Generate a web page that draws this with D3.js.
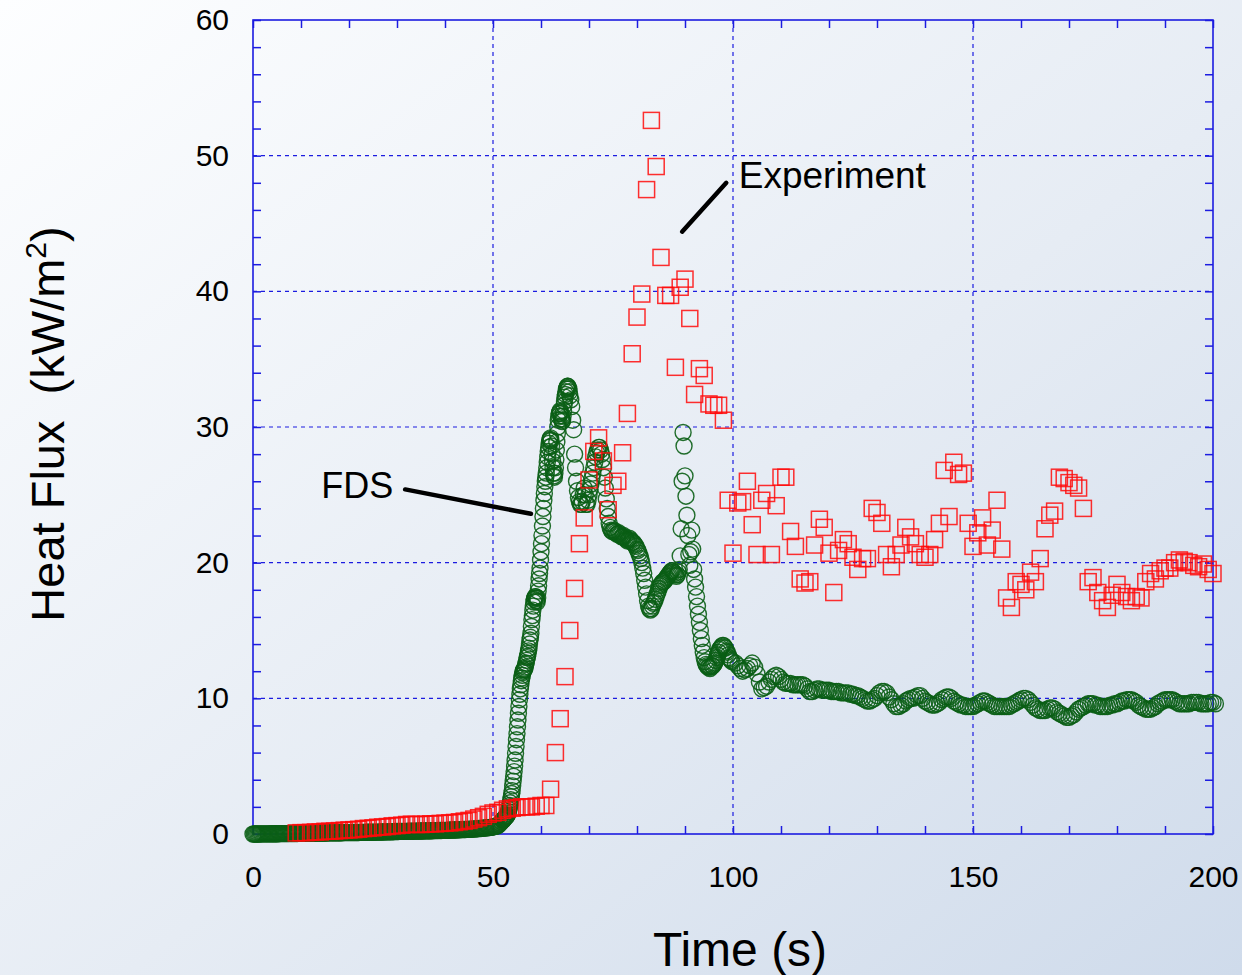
<!DOCTYPE html>
<html>
<head>
<meta charset="utf-8">
<script src="https://cdn.jsdelivr.net/npm/d3@7"></script>
<style>
  body { margin: 0; }
  svg { display: block; }
</style>
</head>
<body>
<div id="chart"></div>
<script>
// ------------------------------------------------------
// Size of the picture and the plot box
const width = 1242
const height = 975
const plotLeft = 253
const plotRight = 1213
const plotTop = 20
const plotBottom = 834

// ------------------------------------------------------
// Data

// Axis ticks
const xTicks = [0, 50, 100, 150, 200]
const yTicks = [0, 10, 20, 30, 40, 50, 60]

// FDS (green circles), stored in pieces with a start time and a step
const fdsEarlyStart = 0, fdsEarlyStep = 0.25
const fdsEarly = [
  0.00,0.00,0.00,0.00, 0.00,0.00,0.01,0.01, 0.01,0.01,0.01,0.01, 0.01,0.01,0.01,0.02,
  0.02,0.02,0.02,0.02, 0.02,0.02,0.03,0.03, 0.03,0.03,0.03,0.03, 0.03,0.03,0.04,0.04,
  0.04,0.04,0.04,0.04, 0.04,0.04,0.05,0.05, 0.05,0.05,0.05,0.05, 0.05,0.05,0.06,0.06,
  0.06,0.06,0.06,0.06, 0.06,0.06,0.07,0.07, 0.07,0.07,0.07,0.07, 0.07,0.07,0.08,0.08,
  0.08,0.08,0.08,0.08, 0.08,0.08,0.09,0.09, 0.09,0.09,0.09,0.10, 0.10,0.10,0.10,0.10,
  0.10,0.10,0.11,0.11, 0.11,0.11,0.11,0.11, 0.11,0.12,0.12,0.12, 0.12,0.12,0.13,0.13,
  0.13,0.13,0.13,0.13, 0.13,0.14,0.14,0.14, 0.14,0.14,0.15,0.15, 0.15,0.15,0.16,0.16,
  0.16,0.16,0.17,0.17, 0.17,0.17,0.18,0.18, 0.18,0.18,0.19,0.19, 0.19,0.19,0.19,0.19,
  0.19,0.20,0.20,0.20, 0.20,0.20,0.21,0.21, 0.21,0.21,0.22,0.22, 0.22,0.22,0.23,0.23,
  0.23,0.23,0.24,0.24, 0.24,0.24,0.25,0.25, 0.25,0.25,0.26,0.26, 0.26,0.26,0.27,0.27,
  0.27,0.27,0.28,0.28, 0.28,0.29,0.29,0.30, 0.30,0.30,0.31,0.31, 0.31,0.32,0.32,0.33,
  0.33,0.33,0.34,0.34, 0.35,0.35,0.36,0.36, 0.37,0.38,0.38,0.39, 0.40,0.41,0.41,0.42,
  0.43,0.44,0.45,0.46, 0.47,0.48,0.49,0.50, 0.52,0.54,0.56,0.59, 0.62,0.70,0.80,0.90
]

const fdsRiseStart = 52, fdsRiseStep = 0.1
const fdsRise = [
  1.00,1.03,1.07,1.11,1.15,1.20,1.24,1.28,1.32,1.36,
  1.40,1.52,1.65,1.80,1.95,2.10,2.30,2.52,2.75,2.98,
  3.20,3.55,3.90,4.25,4.60,5.00,5.45,5.95,6.45,6.95,
  7.40,7.90,8.40,8.90,9.40,9.90,10.3,10.7,11.0,11.3,
  11.5,11.7,11.9,12.0,12.1,12.1,12.2,12.3,12.5,12.6,
  12.8,13.0,13.1,13.3,13.5,13.7,14.0,14.3,14.5,14.8,
  15.3,15.8,16.1,16.5,16.8,17.1,17.3,17.4,17.5,17.5,
  17.4,17.2,17.1,17.4,17.9,18.3,18.8,19.2,19.6,20.2,
  20.8,21.4,22.0,22.7,23.4,24.0,24.6,25.1,25.6,26.0,
  26.3,26.6,27.0,27.4,27.8,28.2,28.5,28.8,29.0,29.1,
  29.2,29.0,28.6,28.0,27.5,27.0,26.6,26.4,26.3,26.6,
  27.0,27.6,28.3,28.9,29.5,30.0,30.5,30.8,31.0,31.1,
  31.2,31.0,30.8,30.6,30.4,30.5,30.8,31.2,31.6,31.9,
  32.2,32.4,32.6,32.8,32.9,33.0,33.0,32.9,32.8,32.6,
  32.3
]

const fdsPeakStart = 66.2, fdsPeakStep = 0.2
const fdsPeak = [
  32.0,31.5,30.5,29.8,28.0,27.0,26.0,25.3,24.8,24.5,
  24.3,24.3,24.5,25.0,25.5,25.0,24.3,24.3,24.6,25.0,
  25.4,25.8,26.2,26.6,27.0,27.4,27.8,28.1,28.3,28.5,
  28.5,28.3,28.0,27.6,27.0,26.3,25.5,24.7,24.0,23.4,
  22.9,22.6,22.4,22.3,22.3,22.4,22.3,22.2,22.1,22.1,
  22.2,22.1,22.0,21.9,21.9,22.0,21.9,21.8,21.7,21.6,
  21.7,21.8,21.7,21.6,21.5,21.5,21.4,21.3,21.2,21.0,
  20.9,20.7,20.5,20.3,20.0,19.6,19.2,18.7,18.2,17.7,
  17.2,16.8,16.6,16.5,16.6,16.8,17.0,17.1,17.3,17.5,
  17.7,17.9,18.1,18.3,18.4,18.5,18.6,18.6,18.7,18.8,
  18.9,19.0,19.1,19.2,19.3,19.4,19.4,19.3,19.2,19.1,
  19.0,19.1,19.3,19.5,20.5,22.5,26.0,29.6,28.6,26.4,
  24.9,23.5,22.0,20.6,19.8,20.8,22.4,21.0,19.5,18.8,
  18.2,17.5,16.8,16.2,15.6,15.0,14.4,13.9,13.4,13.0,
  12.7,12.5,12.4,12.3,12.3,12.2,12.3,12.4,12.4,12.5,
  12.6,12.8,13.0,13.2,13.4,13.6,13.7,13.8,13.9,13.9,
  13.8,13.7,13.5,13.4,13.2,13.0,12.9,12.8,12.7
]

const fdsTailStart = 100.5, fdsTailStep = 0.5
const fdsTail = [
  12.6,12.4,12.2,12.0,12.1,12.2,12.4,12.6,12.3,11.8,
  11.2,10.7,10.8,10.9,11.2,11.4,11.6,11.7,11.6,11.4,
  11.2,11.1,11.1,11.1,11.0,11.0,11.0,11.0,11.0,10.9,
  10.7,10.5,10.5,10.6,10.7,10.7,10.6,10.6,10.6,10.6,
  10.5,10.5,10.5,10.5,10.4,10.4,10.4,10.4,10.3,10.3,
  10.2,10.2,10.1,10.0,9.9,9.8,9.8,9.9,10.0,10.2,
  10.4,10.5,10.5,10.4,10.1,9.9,9.6,9.4,9.4,9.5,
  9.6,9.8,9.9,10.0,10.0,10.1,10.2,10.2,10.0,9.8,
  9.7,9.6,9.5,9.5,9.6,9.7,9.9,10.0,10.1,10.1,
  10.0,9.8,9.7,9.6,9.5,9.5,9.4,9.4,9.4,9.4,
  9.5,9.6,9.7,9.8,9.8,9.7,9.6,9.5,9.4,9.4,
  9.4,9.4,9.4,9.4,9.4,9.5,9.6,9.7,9.8,9.9,
  10.0,10.0,9.9,9.7,9.5,9.3,9.2,9.1,9.1,9.1,
  9.2,9.3,9.3,9.2,9.0,8.9,8.8,8.7,8.6,8.6,
  8.7,8.8,9.0,9.2,9.3,9.4,9.5,9.6,9.6,9.6,
  9.5,9.5,9.4,9.4,9.4,9.4,9.5,9.5,9.6,9.6,
  9.7,9.8,9.8,9.9,9.9,9.9,9.8,9.7,9.5,9.4,
  9.3,9.2,9.2,9.2,9.3,9.4,9.6,9.7,9.8,9.9,
  9.9,9.9,9.9,9.8,9.7,9.6,9.6,9.6,9.6,9.6,
  9.7,9.7,9.7,9.7,9.6,9.6,9.6,9.6,9.7,9.7,
  9.6
]

// Experiment (red squares), one reading per second
const expStart = 9, expStep = 1
const expFlux = [
  0.08,
  0.10,0.10,0.12,0.15,0.15,0.20,0.20,0.22,0.25,0.28,
  0.30,0.32,0.35,0.40,0.42,0.45,0.50,0.52,0.55,0.60,
  0.62,0.65,0.70,0.72,0.70,0.70,0.72,0.75,0.75,0.78,
  0.80,0.82,0.85,0.90,0.95,1.00,1.10,1.20,1.30,1.45,
  1.55,1.60,1.75,1.85,1.90,1.95,2.00,2.00,2.00,2.05,
  2.10,2.10,3.30,6.00,8.50,11.6,15.0,18.1,21.4,23.3,
  26.1,28.2,29.2,27.5,23.9,25.7,26.0,28.1,31.0,35.4,
  38.1,39.8,47.5,52.6,49.2,42.5,39.7,39.7,34.4,40.3,
  40.9,38.0,32.4,34.3,33.8,31.7,31.6,31.6,30.5,24.6,
  20.7,24.4,24.5,26.0,22.8,20.6,24.6,25.1,20.6,24.2,
  26.3,26.3,22.3,21.2,18.8,18.5,18.6,21.3,23.2,22.6,
  20.7,17.8,20.9,21.7,21.4,20.4,19.5,20.3,20.3,24.0,
  23.7,22.9,20.6,19.7,20.6,21.3,22.6,21.9,21.4,20.6,
  20.4,20.6,21.7,22.9,26.8,23.4,27.4,26.5,26.6,22.9,
  21.2,22.2,23.3,21.3,22.4,24.6,21.0,17.4,16.7,18.6,
  18.4,18.0,19.3,18.6,20.3,22.5,23.5,23.8,26.3,26.2,
  25.9,25.7,25.5,24.0,18.6,18.9,17.8,17.2,16.7,17.6,
  18.4,17.8,17.5,17.2,17.5,17.4,18.6,19.2,18.8,19.4,
  19.6,19.6,20.0,20.2,20.1,20.0,19.8,19.7,19.9,19.5,
  19.2
]

// Labels that point at the two series, in data units
const expLabel = { text: 'Experiment', t: 101.2, v: 47.6, from: [89.4, 44.4], to: [98.6, 48.0] }
const fdsLabel = { text: 'FDS', t: 29.2, v: 24.8, from: [31.7, 25.4], to: [57.9, 23.6] }

// ------------------------------------------------------
// Turn the pieces into points

function toPoints(start, step, values) {
  return values.map((v, i) => ({ t: start + i * step, v: v }))
}

const fdsData = [].concat(
  toPoints(fdsEarlyStart, fdsEarlyStep, fdsEarly),
  toPoints(fdsRiseStart, fdsRiseStep, fdsRise),
  toPoints(fdsPeakStart, fdsPeakStep, fdsPeak),
  toPoints(fdsTailStart, fdsTailStep, fdsTail)
)
const expData = toPoints(expStart, expStep, expFlux)

// ------------------------------------------------------
// Scales

const x = d3.scaleLinear()
  .domain([0, 200])
  .range([plotLeft, plotRight])

const y = d3.scaleLinear()
  .domain([0, 60])
  .range([plotBottom, plotTop])

const font = 'Liberation Sans, Arial, Helvetica, sans-serif'
const blue = '#1c1ce0'

const svg = d3.select('#chart')
  .append('svg')
  .attr('width', width)
  .attr('height', height)

// Light blue background that gets darker towards the bottom right
const grad = svg.append('defs')
  .append('linearGradient')
  .attr('id', 'bg')
  .attr('x1', '0%').attr('y1', '0%')
  .attr('x2', '100%').attr('y2', '100%')
grad.append('stop').attr('offset', '0%').attr('stop-color', '#fdfeff')
grad.append('stop').attr('offset', '55%').attr('stop-color', '#e6ecf4')
grad.append('stop').attr('offset', '100%').attr('stop-color', '#cfdbeb')

svg.append('rect')
  .attr('width', width)
  .attr('height', height)
  .attr('fill', 'url(#bg)')

// ------------------------------------------------------
// Dashed grid at the labelled ticks

svg.append('g')
  .selectAll('line')
  .data(xTicks.slice(1, -1))
  .enter()
  .append('line')
  .attr('x1', d => x(d)).attr('x2', d => x(d))
  .attr('y1', plotTop).attr('y2', plotBottom)
  .attr('stroke', blue)
  .attr('stroke-width', 1.2)
  .attr('stroke-dasharray', '4,4')

svg.append('g')
  .selectAll('line')
  .data(yTicks.slice(1, -1))
  .enter()
  .append('line')
  .attr('x1', plotLeft).attr('x2', plotRight)
  .attr('y1', d => y(d)).attr('y2', d => y(d))
  .attr('stroke', blue)
  .attr('stroke-width', 1.2)
  .attr('stroke-dasharray', '4,4')

// ------------------------------------------------------
// Axes: small ticks pointing in on all four sides

const minorX = d3.range(0, 201, 10)
const minorY = d3.range(0, 61, 2)

function styleAxis(g) {
  g.select('.domain').remove()
  g.selectAll('line').attr('stroke', blue).attr('stroke-width', 1.5)
  g.selectAll('text')
    .attr('fill', '#000')
    .style('font-family', font)
    .style('font-size', '30px')
}

svg.append('g')
  .attr('transform', `translate(0,${plotBottom})`)
  .call(d3.axisBottom(x).tickValues(minorX).tickSize(-8).tickPadding(32)
    .tickFormat(d => xTicks.includes(d) ? d : ''))
  .call(styleAxis)

svg.append('g')
  .attr('transform', `translate(${plotLeft},0)`)
  .call(d3.axisLeft(y).tickValues(minorY).tickSize(-8).tickPadding(24)
    .tickFormat(d => yTicks.includes(d) ? d : ''))
  .call(styleAxis)

svg.append('g')
  .attr('transform', `translate(0,${plotTop})`)
  .call(d3.axisTop(x).tickValues(minorX).tickSize(-8).tickFormat(''))
  .call(styleAxis)

svg.append('g')
  .attr('transform', `translate(${plotRight},0)`)
  .call(d3.axisRight(y).tickValues(minorY).tickSize(-8).tickFormat(''))
  .call(styleAxis)

// Frame round the plot
svg.append('rect')
  .attr('x', plotLeft)
  .attr('y', plotTop)
  .attr('width', plotRight - plotLeft)
  .attr('height', plotBottom - plotTop)
  .attr('fill', 'none')
  .attr('stroke', blue)
  .attr('stroke-width', 1.6)

// ------------------------------------------------------
// The two series: FDS first, experiment drawn on top

svg.append('g')
  .selectAll('circle')
  .data(fdsData)
  .enter()
  .append('circle')
  .attr('cx', d => x(d.t))
  .attr('cy', d => y(d.v))
  .attr('r', 8)
  .attr('fill', 'none')
  .attr('stroke', '#0a5e15')
  .attr('stroke-width', 1.4)
  .attr('stroke-opacity', 0.9)

const sq = 16
svg.append('g')
  .selectAll('rect')
  .data(expData)
  .enter()
  .append('rect')
  .attr('x', d => x(d.t) - sq / 2)
  .attr('y', d => y(d.v) - sq / 2)
  .attr('width', sq)
  .attr('height', sq)
  .attr('fill', 'none')
  .attr('stroke', '#ff0a0a')
  .attr('stroke-width', 1.5)
  .attr('stroke-opacity', 0.85)

// ------------------------------------------------------
// Labels with their pointer lines

for (const lab of [expLabel, fdsLabel]) {
  svg.append('line')
    .attr('x1', x(lab.from[0])).attr('y1', y(lab.from[1]))
    .attr('x2', x(lab.to[0])).attr('y2', y(lab.to[1]))
    .attr('stroke', '#000')
    .attr('stroke-width', 4.5)
    .attr('stroke-linecap', 'round')
}

svg.append('text')
  .attr('x', x(expLabel.t))
  .attr('y', y(expLabel.v))
  .text(expLabel.text)
  .style('font-family', font)
  .style('font-size', '37px')

svg.append('text')
  .attr('x', x(fdsLabel.t))
  .attr('y', y(fdsLabel.v))
  .attr('text-anchor', 'end')
  .text(fdsLabel.text)
  .style('font-family', font)
  .style('font-size', '36px')

// ------------------------------------------------------
// Axis titles

svg.append('text')
  .attr('x', 740)
  .attr('y', 966)
  .attr('text-anchor', 'middle')
  .text('Time (s)')
  .style('font-family', font)
  .style('font-size', '48px')

const yTitle = svg.append('text')
  .attr('transform', 'translate(64,424) rotate(-90)')
  .attr('text-anchor', 'middle')
  .style('font-family', font)
  .style('font-size', '47px')
  .style('white-space', 'pre')
yTitle.append('tspan').text('Heat Flux  (kW/m')
yTitle.append('tspan').text('2').attr('dy', -18).style('font-size', '30px')
yTitle.append('tspan').text(')').attr('dy', 18)
</script>
</body>
</html>
